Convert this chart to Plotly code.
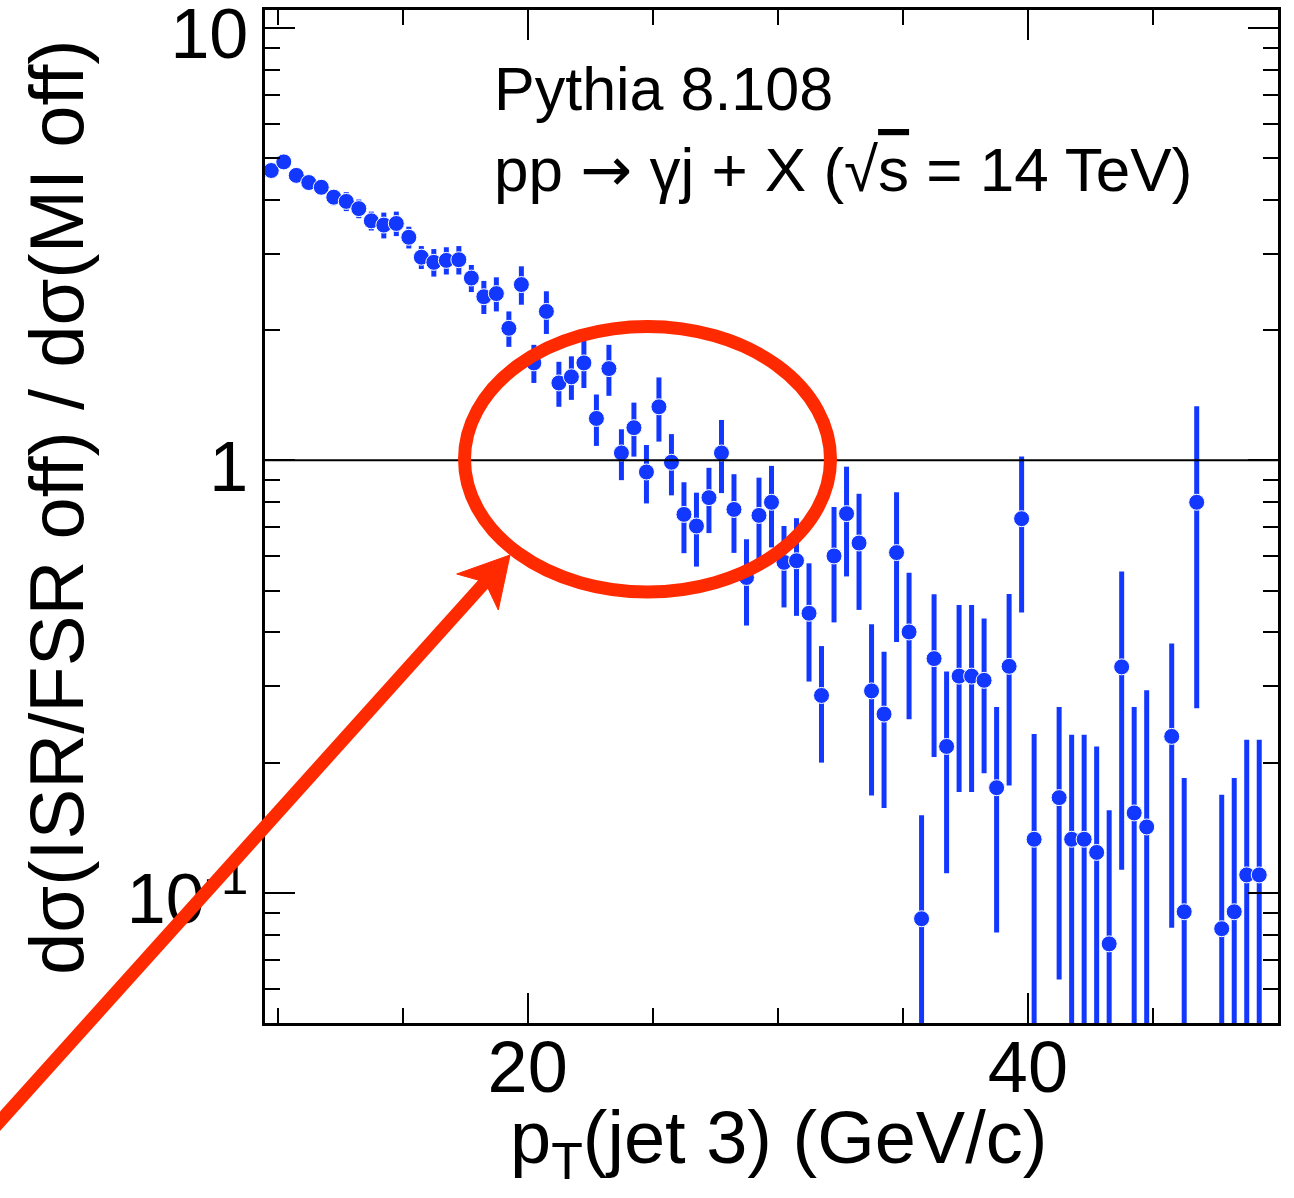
import plotly.graph_objects as go

# Bin centres of the third-jet pT histogram (GeV/c), 0.5 GeV bins from 9.5 to 50
pt_centre = [
    9.75, 10.25, 10.75, 11.25, 11.75, 12.25, 12.75, 13.25, 13.75, 14.25,
    14.75, 15.25, 15.75, 16.25, 16.75, 17.25, 17.75, 18.25, 18.75, 19.25,
    19.75, 20.25, 20.75, 21.25, 21.75, 22.25, 22.75, 23.25, 23.75, 24.25,
    24.75, 25.25, 25.75, 26.25, 26.75, 27.25, 27.75, 28.25, 28.75, 29.25,
    29.75, 30.25, 30.75, 31.25, 31.75, 32.25, 32.75, 33.25, 33.75, 34.25,
    34.75, 35.25, 35.75, 36.25, 36.75, 37.25, 37.75, 38.25, 38.75, 39.25,
    39.75, 40.25, 40.75, 41.25, 41.75, 42.25, 42.75, 43.25, 43.75, 44.25,
    44.75, 45.25, 45.75, 46.25, 46.75, 47.25, 47.75, 48.25, 48.75, 49.25,
    49.75,
]

# Ratio dsigma(ISR/FSR off) / dsigma(MI off); None = empty bin
ratio = [
    4.68, 4.90, 4.56, 4.39, 4.28, 4.06, 3.97, 3.82, 3.58, 3.50,
    3.53, 3.28, 2.95, 2.87, 2.90, 2.91, 2.64, 2.39, 2.43, 2.02,
    2.55, 1.68, 2.21, 1.51, 1.56, 1.68, 1.25, 1.63, 1.04, 1.19,
    0.94, 1.33, 0.99, 0.75, 0.705, 0.82, 1.04, 0.77, 0.536, 0.746,
    0.80, 0.581, 0.586, 0.443, 0.286, 0.601, 0.753, 0.644, 0.293, 0.259,
    0.612, 0.401, 0.0871, 0.348, 0.218, 0.317, 0.317, 0.310, 0.175, 0.334,
    0.733, 0.133, None, 0.166, 0.133, 0.133, 0.124, 0.0762, 0.333, 0.153,
    0.142, None, 0.230, 0.0904, 0.80, None, 0.0826, 0.0904, 0.110, 0.110,
    None,
]

# Statistical uncertainty of each ratio bin
ratio_err = [
    0.12, 0.13, 0.13, 0.14, 0.15, 0.17, 0.20, 0.19, 0.18, 0.24,
    0.23, 0.19, 0.18, 0.21, 0.21, 0.22, 0.19, 0.21, 0.22, 0.19,
    0.26, 0.17, 0.25, 0.18, 0.18, 0.21, 0.17, 0.22, 0.14, 0.17,
    0.145, 0.225, 0.16, 0.14, 0.137, 0.141, 0.20, 0.159, 0.121, 0.166,
    0.171, 0.124, 0.149, 0.135, 0.086, 0.179, 0.214, 0.193, 0.125, 0.102,
    0.232, 0.149, 0.064, 0.142, 0.107, 0.146, 0.146, 0.121, 0.094, 0.157,
    0.288, 0.100, None, 0.103, 0.099, 0.099, 0.094, 0.079, 0.220, 0.116,
    0.152, None, 0.147, 0.094, 0.533, None, 0.086, 0.094, 0.116, 0.116,
    None,
]

# Axis ticks
x_major = [20, 40]
x_minor = [10, 15, 25, 30, 35, 45]
y_major = [0.1, 1, 10]
y_major_text = ["10<sup>-1</sup>", "1", "10"]
y_minor = [0.06, 0.07, 0.08, 0.09,
           0.2, 0.3, 0.4, 0.5, 0.6, 0.7, 0.8, 0.9,
           2, 3, 4, 5, 6, 7, 8, 9]

x_range = [9.5, 50]
y_range_log = [-1.30103, 1.04139]   # log10 of 0.05 .. 11

ARROW_FONT = "DejaVu Sans"
title_x = "p<sub>T</sub>(jet 3) (GeV/c)"
title_y = "d\u03c3(ISR/FSR off) / d\u03c3(MI off)"
label_gen = "Pythia 8.108"
label_proc = (f"pp <span style='font-family:{ARROW_FONT}'>\u2192</span> \u03b3j + X "
              "(\u221a<span style='text-decoration:overline'>s</span> = 14 TeV)")

# Page geometry (pixels)
W, H = 1294, 1198
ML, MR, MT, MB = 265, 16, 10, 175
PW, PH = W - ML - MR, H - MT - MB

FONT = "Liberation Sans, Arial, Helvetica, sans-serif"
BLUE = "#1238ff"
RED = "#ff2a00"


def px(x):
    """page pixel x -> paper fraction"""
    return (x - ML) / PW


def py(y):
    """page pixel y (from top) -> paper fraction"""
    return (H - MB - y) / PH


x_pts = [x for x, v in zip(pt_centre, ratio) if v is not None]
y_pts = [v for v in ratio if v is not None]
e_pts = [e for v, e in zip(ratio, ratio_err) if v is not None]

fig = go.Figure()
fig.add_trace(go.Scatter(
    x=x_pts, y=y_pts, mode="markers",
    marker=dict(color=BLUE, size=16, line=dict(color="white", width=1)),
    error_y=dict(type="data", array=e_pts, visible=True,
                 thickness=5, width=0, color=BLUE),
    showlegend=False,
))

# reference line at ratio = 1
fig.add_shape(type="line", xref="paper", x0=0, x1=1, yref="y", y0=1, y1=1,
              line=dict(color="black", width=2), layer="above")

# highlight ellipse
fig.add_shape(type="circle", xref="paper", yref="paper",
              x0=px(464.5), x1=px(830.5), y0=py(592), y1=py(326.5),
              line=dict(color=RED, width=13), layer="above")

# pointer arrow: shaft and head
fig.add_shape(type="line", xref="paper", yref="paper",
              x0=px(-25), y0=py(1149), x1=px(487), y1=py(580),
              line=dict(color=RED, width=13), layer="above")
head = [(510, 555), (456.7, 574), (485, 582), (498.3, 610)]
path = "M " + " L ".join(f"{px(a):.5f},{py(b):.5f}" for a, b in head) + " Z"
fig.add_shape(type="path", xref="paper", yref="paper", path=path,
              fillcolor=RED, line=dict(color=RED, width=1), layer="above")

# text labels
fig.add_annotation(text=label_gen, xref="paper", yref="paper",
                   x=px(492), y=py(125), xanchor="left", yanchor="bottom",
                   showarrow=False, font=dict(family=FONT, size=61, color="black"))
fig.add_annotation(text=label_proc, xref="paper", yref="paper",
                   x=px(492), y=py(208), xanchor="left", yanchor="bottom",
                   showarrow=False, font=dict(family=FONT, size=62, color="black"))

# axis titles
fig.add_annotation(text=title_x, xref="paper", yref="paper",
                   x=px(778), y=py(1094), xanchor="center", yanchor="top",
                   showarrow=False, font=dict(family=FONT, size=74, color="black"))
fig.add_annotation(text=title_y, xref="paper", yref="paper",
                   x=px(56), y=py(507), xanchor="center", yanchor="middle",
                   textangle=-90, showarrow=False,
                   font=dict(family=FONT, size=76, color="black"))

axis_common = dict(
    showline=True, linecolor="black", linewidth=2.5, mirror="ticks",
    ticks="inside", tickcolor="black", tickwidth=1.5, ticklen=30,
    showgrid=False, zeroline=False, ticklabeloverflow="allow",
)

fig.update_xaxes(
    range=x_range, tickmode="array", tickvals=x_major,
    ticktext=[str(v) for v in x_major],
    tickfont=dict(family=FONT, size=72, color="black"),
    ticklabelstandoff=-20,
    minor=dict(tickmode="array", tickvals=x_minor, ticks="inside",
               ticklen=15, tickwidth=1.5, tickcolor="black", showgrid=False),
    **axis_common,
)
fig.update_yaxes(
    type="log", range=y_range_log, tickmode="array",
    tickvals=y_major, ticktext=y_major_text,
    tickfont=dict(family=FONT, size=70, color="black"),
    ticklabelshift=6,
    minor=dict(tickmode="array", tickvals=y_minor, ticks="inside",
               ticklen=15, tickwidth=1.5, tickcolor="black", showgrid=False),
    **axis_common,
)

fig.update_layout(
    width=W, height=H,
    margin=dict(l=ML, r=MR, t=MT, b=MB, autoexpand=False),
    paper_bgcolor="white", plot_bgcolor="white",
    font=dict(family=FONT, color="black"),
)

fig.write_html("out.html")
